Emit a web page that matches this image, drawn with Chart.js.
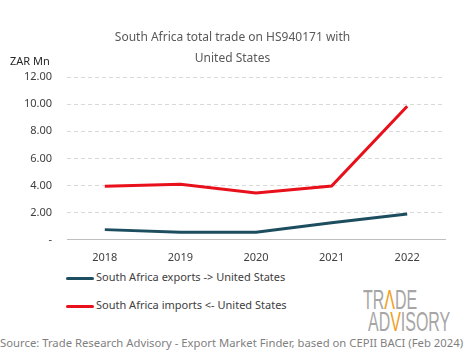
<!DOCTYPE html>
<html lang="en">
<head>
<meta charset="UTF-8">
<title>South Africa trade HS940171</title>
<script src="https://cdn.jsdelivr.net/npm/chart.js"></script>
<style>
  body { margin:0; width:465px; height:359px; background:#fff; position:relative; overflow:hidden; font-family:"Noto Sans", sans-serif; }
  #box { position:absolute; left:0; top:0; width:465px; height:267px; }
  .title { position:absolute; left:0; top:26px; width:465px; text-align:center; font-size:12px; line-height:21px; color:#595959; }
  .unit { position:absolute; left:10px; top:53px; font-size:11px; color:#262626; }
  .leg { position:absolute; left:66px; font-size:11px; color:#404040; }
  .leg i { display:inline-block; width:28px; height:3px; vertical-align:middle; margin-right:2px; border-radius:2px; }
  .logo { position:absolute; color:#a6a6a6; font-family:"Liberation Sans", sans-serif; font-size:28px; line-height:28px; transform:scaleX(0.57); transform-origin:left top; white-space:nowrap; }
  .logo b { color:#f0a020; font-weight:normal; }
  .src { position:absolute; left:0; top:335px; font-size:11.3px; color:#7f7f7f; white-space:nowrap; }
</style>
</head>
<body>
<div id="box"><canvas id="myChart"></canvas></div>
<div class="title">South Africa total trade on HS940171 with<br>United States</div>
<div class="unit">ZAR Mn</div>
<div class="leg" style="top:269px"><i style="background:#1d4e60"></i>South Africa exports -&gt; United States</div>
<div class="leg" style="top:297px"><i style="background:#e8101a"></i>South Africa imports &lt;- United States</div>
<div class="logo" style="left:363px; top:286px">TR<b>&Lambda;</b>DE</div>
<div class="logo" style="left:368px; top:308px">AD<b>V</b>ISORY</div>
<div class="src">Source: Trade Research Advisory - Export Market Finder, based on CEPII BACI (Feb 2024)</div>
<script>
// 데이터
const years = ['2018', '2019', '2020', '2021', '2022'];
const exportsUS = [0.75, 0.55, 0.55, 1.25, 1.9];
const importsUS = [3.95, 4.1, 3.45, 3.97, 9.85];
const yTicks = [0, 2, 4, 6, 8, 10, 12];

const ctx = document.getElementById('myChart').getContext('2d');
const myChart = new Chart(ctx, {
    type: 'line',
    data: {
        labels: years,
        datasets: [
            { label: 'South Africa exports -> United States', data: exportsUS,
              borderColor: '#1d4e60', borderWidth: 3, pointRadius: 0, tension: 0 },
            { label: 'South Africa imports <- United States', data: importsUS,
              borderColor: '#e8101a', borderWidth: 3, pointRadius: 0, tension: 0 }
        ]
    },
    options: {
        responsive: true,
        maintainAspectRatio: false,
        animation: false,
        layout: { padding: { left: 0, right: 20, top: 77, bottom: 0 } },
        plugins: {
            legend: { display: false },
            tooltip: { enabled: false },
            title: { display: false }
        },
        scales: {
            x: {
                offset: true,
                grid: { display: false },
                border: { display: true, color: '#bfbfbf', width: 1 },
                ticks: { color: '#404040', font: { family: 'Noto Sans', size: 11 }, padding: 3 }
            },
            y: {
                min: 0, max: 12,
                afterBuildTicks: (s) => { s.ticks = yTicks.map(v => ({ value: v })); },
                afterFit: (s) => { s.width = 67; },
                grid: { color: '#d9d9d9', lineWidth: 1, drawTicks: false },
                border: { display: false, dash: [4, 3] },
                ticks: {
                    color: '#404040', font: { family: 'Noto Sans', size: 11 }, padding: 15,
                    callback: (v) => v === 0 ? '-' : v.toFixed(2)
                }
            }
        }
    }
});
</script>
</body>
</html>
